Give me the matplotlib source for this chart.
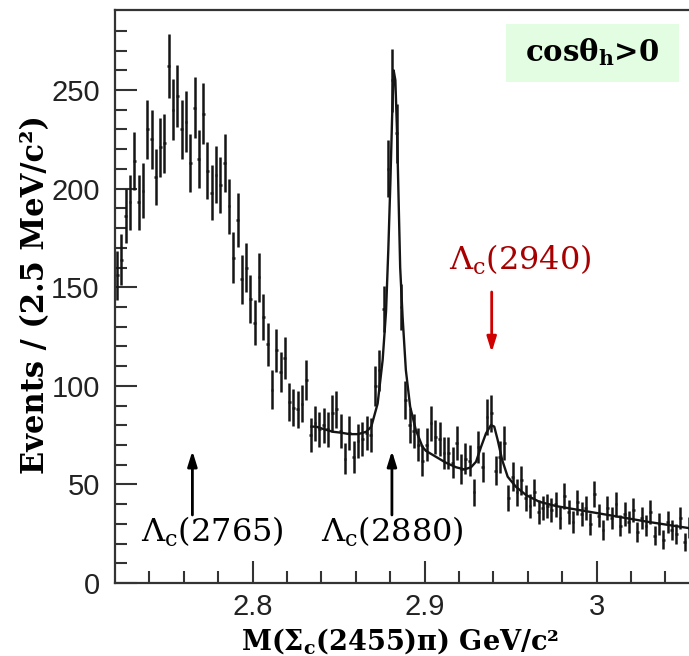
import matplotlib

matplotlib.use('Agg')
import matplotlib.pyplot as plt
from matplotlib.patches import Rectangle
import numpy as np

# histogram: 2.5 MeV bins starting at 2.72 GeV
bin_start = 2.72
bin_width = 0.0025
counts = [
    156, 164, 186, 193, 214, 193, 199, 230, 225, 206,
    221, 223, 262, 240, 247, 230, 234, 213, 241, 215,
    238, 209, 198, 207, 202, 213, 191, 165, 184, 154,
    160, 144, 132, 155, 135, 121, 98, 118, 107, 114,
    92, 89, 88, 91, 103, 75, 81, 78, 80, 78,
    86, 88, 77, 63, 76, 64, 72, 73, 76, 75,
    100, 108, 139, 210, 255, 228, 140, 93, 80, 77,
    70, 62, 70, 81, 74, 73, 66, 66, 61, 71,
    58, 63, 62, 46, 69, 59, 84, 86, 57, 64,
    71, 43, 54, 46, 52, 43, 39, 46, 36, 38,
    39, 37, 40, 33, 44, 36, 31, 41, 35, 38,
    30, 45, 34, 27, 38, 33, 40, 29, 35, 31,
    37, 26, 33, 29, 36, 24, 30, 22, 31, 27,
    25, 33, 21, 28, 24,
]

# fit curve
fit_x = [2.8342, 2.8369, 2.8419, 2.8467, 2.8516, 2.8564, 2.8613, 2.8661, 2.8690,
         2.8727, 2.8756, 2.8776, 2.8789, 2.8801, 2.8811, 2.8820, 2.8830, 2.8840,
         2.8849, 2.8858, 2.8872, 2.8891, 2.8916, 2.8949, 2.8988, 2.9008, 2.9066,
         2.9124, 2.9183, 2.9231, 2.9270, 2.9299, 2.9328, 2.9357, 2.9386, 2.9405,
         2.9425, 2.9451, 2.9483, 2.9531, 2.9590, 2.9667, 2.9765, 3.0, 3.03, 3.06]
fit_y = [79.3, 79.3, 77.9, 76.7, 76.2, 75.5, 75.5, 76.7, 79.3,
         91, 113, 138, 169, 203, 236, 260, 255, 228,
         194, 160, 135, 108, 89.4, 77.6, 69, 67, 64,
         61, 58.7, 57.6, 58.7, 61.5, 69, 75.9, 80.1, 79.3,
         72.5, 62.4, 53.9, 48.8, 44.6, 41.2, 39, 35.5, 31, 27]

# state labels
states = ["2765", "2880", "2940"]
arrow_x = [2.765, 2.881, 2.939]

counts = np.array(counts, dtype=float)
centers = bin_start + bin_width * (np.arange(len(counts)) + 0.5)
errors = np.sqrt(counts)

plt.rcParams['mathtext.fontset'] = 'custom'
plt.rcParams['mathtext.rm'] = 'DejaVu Serif'
plt.rcParams['mathtext.bf'] = 'DejaVu Serif:bold'

W, H = 689, 656
fig = plt.figure(figsize=(W / 100, H / 100), dpi=100)
ax = fig.add_axes([115 / W, 1 - 583 / H, 584.8 / W, 573 / H])

ax.errorbar(centers, counts, yerr=errors, xerr=0.0008, fmt='none',
            ecolor='#151515', elinewidth=1.8, capsize=0, zorder=3)
ax.plot(fit_x, fit_y, color='#151515', linewidth=1.7, zorder=4)

ax.set_xlim(2.72, 3.06)
ax.set_ylim(0, 290.6)
ax.set_xticks([2.8, 2.9, 3.0])
ax.set_xticklabels(["2.8", "2.9", "3"])
ax.set_xticks(np.arange(2.74, 3.06, 0.02), minor=True)
ax.set_yticks([0, 50, 100, 150, 200, 250])
ax.set_yticks(np.arange(0, 290, 10), minor=True)
ax.tick_params(which='both', direction='in', top=False, right=False,
               color='#333333', width=1.5)
ax.tick_params(which='major', length=16, pad=11, labelsize=21, labelcolor='#222222')
ax.tick_params(axis='x', which='major', pad=7)
ax.tick_params(which='minor', length=8.5)
for lab in ax.get_xticklabels() + ax.get_yticklabels():
    lab.set_family('Liberation Sans')
for side in ['left', 'bottom', 'top']:
    ax.spines[side].set_linewidth(1.6)
    ax.spines[side].set_color('#333333')
ax.spines['right'].set_visible(False)

# arrows and state labels
arrow_kw = dict(arrowstyle='-|>,head_length=0.9,head_width=0.28', lw=2.0,
                shrinkA=0, shrinkB=0)
ax.annotate('', xy=(arrow_x[0], 67), xytext=(arrow_x[0], 34.5),
            arrowprops=dict(color='black', **arrow_kw))
ax.annotate('', xy=(arrow_x[1], 67), xytext=(arrow_x[1], 34.5),
            arrowprops=dict(color='black', **arrow_kw))
ax.annotate('', xy=(arrow_x[2], 117), xytext=(arrow_x[2], 147.6),
            arrowprops=dict(color='#d00000', **arrow_kw))

txt_kw = dict(fontsize=23, family='DejaVu Serif', ha='center', va='center')
ax.text(2.7765, 26, r'$\Lambda_{\mathrm{c}}$(' + states[0] + ')', color='black', **txt_kw)
ax.text(2.8815, 26, r'$\Lambda_{\mathrm{c}}$(' + states[1] + ')', color='black', **txt_kw)
ax.text(2.9555, 164, r'$\Lambda_{\mathrm{c}}$(' + states[2] + ')', color='#a80000', **txt_kw)

# selection box
fig.add_artist(Rectangle((506 / W, 1 - 82 / H), 173 / W, 58 / H,
                         transform=fig.transFigure, facecolor='#e2fde2',
                         edgecolor='none'))
fig.text(592 / W, 1 - 52 / H, r'cosθ$_{\mathbf{h}}$>0', fontsize=21,
         family='DejaVu Serif', fontweight='bold', ha='center', va='center')

fig.text(400 / W, 1 - 641 / H, r'M(Σ$_{\mathbf{c}}$(2455)π) GeV/c²', fontsize=19.5,
         family='DejaVu Serif', fontweight='bold', ha='center', va='center')
fig.text(36 / W, 1 - 295 / H, 'Events / (2.5 MeV/c²)', fontsize=22, rotation=90,
         family='DejaVu Serif', fontweight='bold', ha='center', va='center')

fig.savefig('out.png', dpi=100)
